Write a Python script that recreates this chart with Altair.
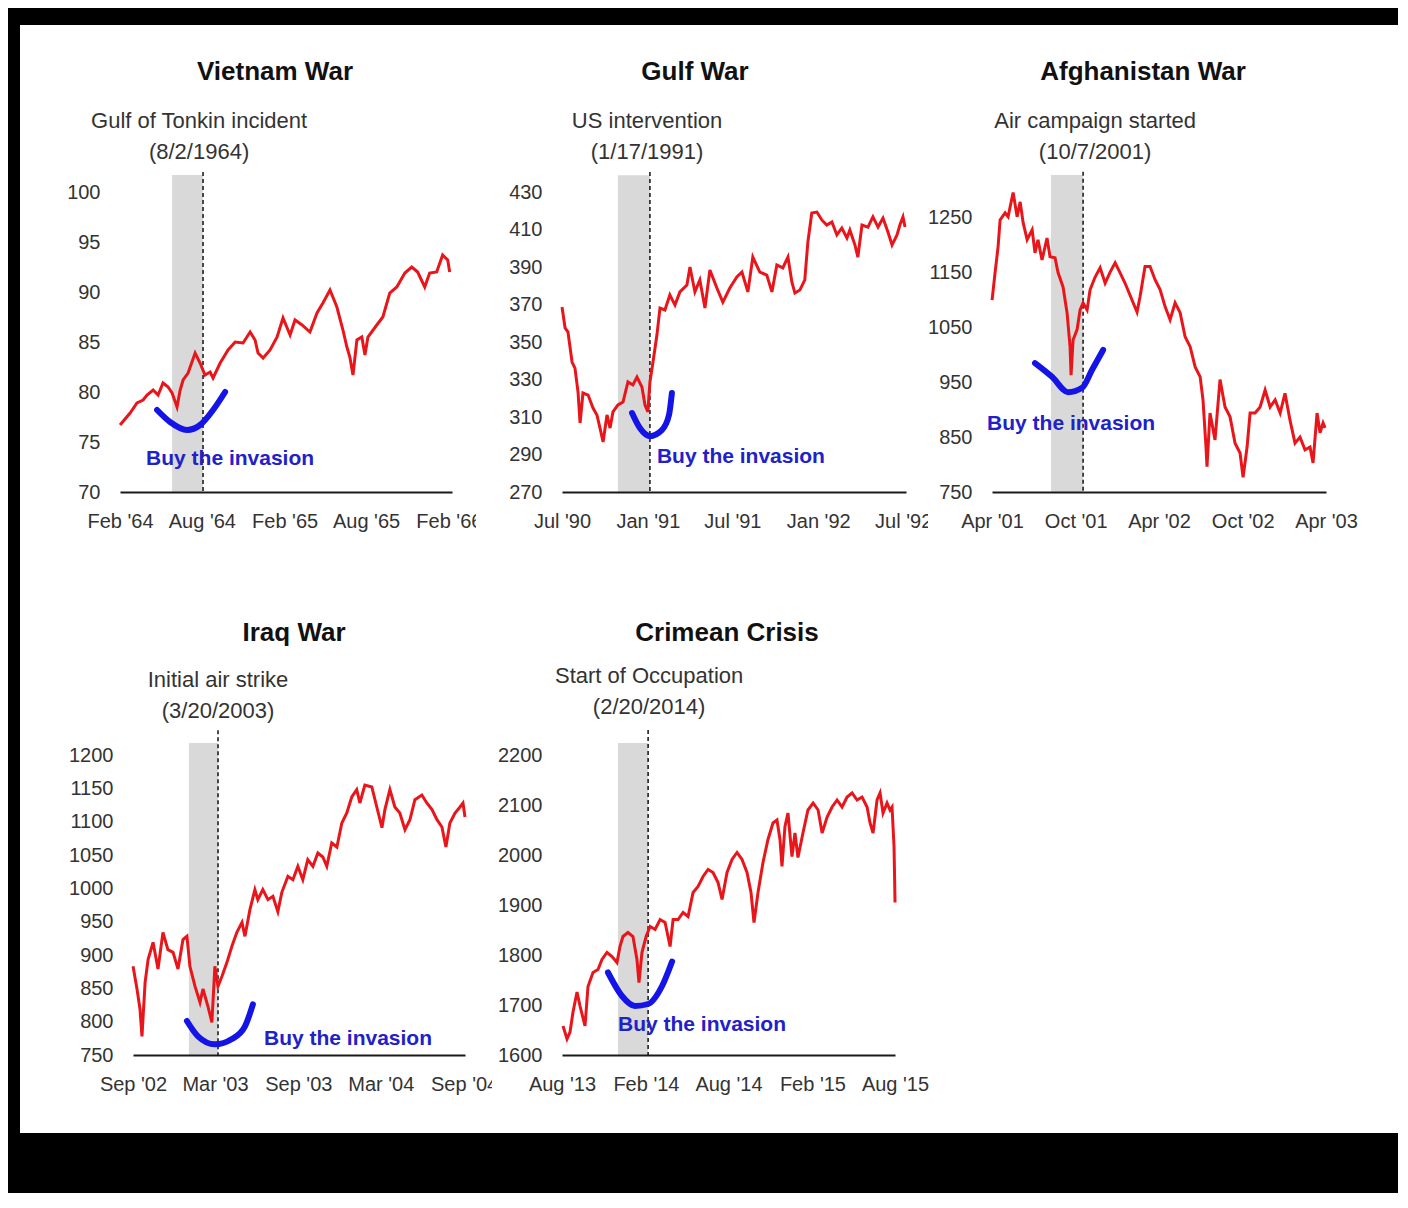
import altair as alt
import pandas as pd

# ---------------- data ----------------
PANEL_TITLES = ["Vietnam War", "Gulf War", "Afghanistan War", "Iraq War", "Crimean Crisis"]
EVENT_LABELS = [
    "Gulf of Tonkin incident\n(8/2/1964)",
    "US intervention\n(1/17/1991)",
    "Air campaign started\n(10/7/2001)",
    "Initial air strike\n(3/20/2003)",
    "Start of Occupation\n(2/20/2014)",
]
BUY_TEXT = "Buy the invasion"

# decimal-year dates and index levels
VIET_T = [1964.085, 1964.146, 1964.188, 1964.225, 1964.249, 1964.286, 1964.316, 1964.346, 1964.377, 1964.401,
          1964.431, 1964.450, 1964.468, 1964.498, 1964.541, 1964.571, 1964.601, 1964.632, 1964.650, 1964.693,
          1964.741, 1964.784, 1964.832, 1964.875, 1964.905, 1964.923, 1964.954, 1964.996, 1965.039, 1965.075,
          1965.118, 1965.148, 1965.191, 1965.239, 1965.282, 1965.318, 1965.361, 1965.403, 1965.440, 1965.464,
          1965.482, 1965.501, 1965.525, 1965.555, 1965.574, 1965.592, 1965.646, 1965.683, 1965.725, 1965.768,
          1965.817, 1965.859, 1965.895, 1965.938, 1965.968, 1966.011, 1966.047, 1966.078, 1966.090]
VIET_V = [76.7, 77.9, 78.9, 79.2, 79.7, 80.2, 79.7, 80.9, 80.5, 79.9,
          78.5, 80.2, 81.2, 81.9, 83.9, 82.9, 81.7, 82.0, 81.4, 82.9,
          84.2, 85.0, 84.9, 86.0, 85.2, 83.9, 83.4, 84.2, 85.5, 87.4,
          85.7, 87.2, 86.7, 86.0, 87.9, 88.9, 90.2, 88.5, 86.2, 84.5,
          83.5, 81.7, 85.2, 85.5, 83.7, 85.5, 86.7, 87.5, 89.9, 90.5,
          91.9, 92.5, 92.0, 90.5, 91.9, 92.0, 93.7, 93.2, 92.0]

GULF_T = [1990.496, 1990.514, 1990.531, 1990.555, 1990.572, 1990.590, 1990.602, 1990.619, 1990.649, 1990.678,
          1990.701, 1990.719, 1990.737, 1990.760, 1990.778, 1990.795, 1990.824, 1990.854, 1990.883, 1990.912,
          1990.936, 1990.965, 1990.983, 1991.000, 1991.012, 1991.030, 1991.053, 1991.071, 1991.100, 1991.129,
          1991.159, 1991.188, 1991.229, 1991.247, 1991.276, 1991.305, 1991.335, 1991.364, 1991.405, 1991.440,
          1991.481, 1991.522, 1991.552, 1991.587, 1991.616, 1991.657, 1991.698, 1991.728, 1991.757, 1991.792,
          1991.822, 1991.845, 1991.863, 1991.892, 1991.921, 1991.939, 1991.962, 1991.992, 1992.021, 1992.050,
          1992.080, 1992.109, 1992.138, 1992.168, 1992.185, 1992.215, 1992.232, 1992.256, 1992.291, 1992.320,
          1992.350, 1992.379, 1992.408, 1992.432, 1992.461, 1992.478, 1992.496, 1992.508]
GULF_V = [368.7, 357.5, 355.3, 339.3, 336.1, 323.3, 306.8, 322.8, 321.7, 314.8,
          311.1, 304.1, 296.7, 311.1, 304.1, 312.7, 316.4, 318.0, 328.7, 327.1,
          331.3, 326.0, 316.4, 312.7, 328.7, 339.3, 353.7, 368.1, 367.1, 375.1,
          369.7, 376.7, 380.4, 390.0, 376.7, 383.1, 368.1, 388.4, 378.8, 371.3,
          378.8, 384.7, 387.3, 376.7, 395.3, 387.3, 385.7, 376.7, 391.1, 389.5,
          395.3, 382.0, 376.1, 377.7, 383.1, 403.3, 418.8, 419.3, 415.1, 412.4,
          414.0, 407.1, 410.8, 405.5, 409.7, 401.7, 395.3, 412.4, 411.3, 416.7,
          411.3, 416.1, 408.7, 401.7, 407.1, 412.4, 416.7, 411.3]

AFGH_T = [2001.247, 2001.265, 2001.283, 2001.295, 2001.325, 2001.343, 2001.373, 2001.397, 2001.415, 2001.433,
          2001.457, 2001.487, 2001.504, 2001.522, 2001.546, 2001.576, 2001.594, 2001.624, 2001.642, 2001.672,
          2001.696, 2001.714, 2001.720, 2001.732, 2001.756, 2001.774, 2001.792, 2001.816, 2001.834, 2001.864,
          2001.894, 2001.924, 2001.954, 2001.984, 2002.013, 2002.043, 2002.085, 2002.115, 2002.133, 2002.163,
          2002.193, 2002.223, 2002.253, 2002.283, 2002.313, 2002.343, 2002.373, 2002.403, 2002.433, 2002.463,
          2002.493, 2002.510, 2002.528, 2002.534, 2002.552, 2002.582, 2002.612, 2002.642, 2002.672, 2002.702,
          2002.732, 2002.750, 2002.774, 2002.792, 2002.822, 2002.852, 2002.882, 2002.912, 2002.942, 2002.972,
          2003.001, 2003.031, 2003.061, 2003.091, 2003.121, 2003.151, 2003.169, 2003.193, 2003.211, 2003.229,
          2003.241]
AFGH_V = [1100, 1150, 1197, 1246, 1259, 1252, 1296, 1252, 1279, 1241,
          1210, 1228, 1186, 1210, 1173, 1213, 1179, 1177, 1150, 1124,
          1077, 1015, 963, 1027, 1046, 1082, 1095, 1082, 1119, 1142,
          1159, 1131, 1151, 1168, 1150, 1131, 1100, 1078, 1106, 1161,
          1161, 1137, 1119, 1088, 1064, 1095, 1077, 1033, 1015, 978,
          960, 918, 832, 796, 894, 845, 955, 905, 887, 839,
          821, 777, 832, 894, 894, 905, 936, 905, 918, 894,
          930, 881, 839, 850, 827, 832, 803, 894, 858, 876,
          867]

IRAQ_T = [2002.666, 2002.690, 2002.708, 2002.720, 2002.739, 2002.757, 2002.787, 2002.817, 2002.847, 2002.877,
          2002.908, 2002.938, 2002.968, 2002.992, 2003.010, 2003.041, 2003.071, 2003.089, 2003.119, 2003.143,
          2003.161, 2003.180, 2003.204, 2003.234, 2003.264, 2003.294, 2003.325, 2003.343, 2003.373, 2003.403,
          2003.421, 2003.451, 2003.482, 2003.512, 2003.542, 2003.566, 2003.603, 2003.633, 2003.663, 2003.693,
          2003.723, 2003.754, 2003.784, 2003.814, 2003.838, 2003.868, 2003.899, 2003.929, 2003.959, 2003.989,
          2004.019, 2004.038, 2004.068, 2004.110, 2004.140, 2004.171, 2004.189, 2004.219, 2004.249, 2004.279,
          2004.310, 2004.340, 2004.370, 2004.412, 2004.442, 2004.473, 2004.503, 2004.533, 2004.557, 2004.581,
          2004.612, 2004.642, 2004.660, 2004.672]
IRAQ_V = [883, 849, 819, 778, 859, 893, 919, 879, 934, 908,
          904, 879, 923, 928, 883, 853, 829, 849, 823, 799,
          883, 853, 868, 889, 913, 934, 949, 928, 968, 998,
          983, 998, 983, 988, 965, 994, 1018, 1013, 1033, 1013,
          1043, 1033, 1053, 1047, 1033, 1068, 1062, 1098, 1113, 1137,
          1148, 1128, 1155, 1152, 1122, 1091, 1118, 1148, 1122, 1113,
          1088, 1103, 1133, 1140, 1128, 1118, 1103, 1092, 1062, 1098,
          1113, 1122, 1128, 1107]

CRIM_T = [2013.587, 2013.611, 2013.629, 2013.647, 2013.671, 2013.689, 2013.719, 2013.737, 2013.767, 2013.797,
          2013.821, 2013.851, 2013.881, 2013.911, 2013.929, 2013.947, 2013.977, 2014.007, 2014.031, 2014.043,
          2014.061, 2014.086, 2014.110, 2014.140, 2014.170, 2014.200, 2014.230, 2014.248, 2014.278, 2014.308,
          2014.338, 2014.368, 2014.398, 2014.428, 2014.458, 2014.488, 2014.518, 2014.542, 2014.572, 2014.602,
          2014.632, 2014.662, 2014.692, 2014.716, 2014.734, 2014.758, 2014.788, 2014.818, 2014.848, 2014.872,
          2014.890, 2014.902, 2014.920, 2014.938, 2014.962, 2014.980, 2014.998, 2015.028, 2015.058, 2015.089,
          2015.119, 2015.143, 2015.173, 2015.203, 2015.233, 2015.263, 2015.293, 2015.323, 2015.353, 2015.383,
          2015.413, 2015.431, 2015.449, 2015.473, 2015.491, 2015.509, 2015.533, 2015.551, 2015.563, 2015.575,
          2015.581]
CRIM_V = [1658, 1632, 1646, 1686, 1726, 1698, 1658, 1737, 1765, 1771,
          1791, 1805, 1797, 1785, 1817, 1837, 1845, 1837, 1791, 1745,
          1805, 1837, 1857, 1851, 1871, 1865, 1817, 1871, 1871, 1885,
          1877, 1925, 1937, 1957, 1971, 1965, 1945, 1911, 1965, 1991,
          2005, 1991, 1965, 1925, 1865, 1925, 1985, 2031, 2064, 2070,
          2031, 1977, 2057, 2084, 1997, 2044, 1995, 2044, 2090, 2104,
          2090, 2044, 2076, 2096, 2110, 2096, 2116, 2124, 2110, 2116,
          2096, 2064, 2044, 2110, 2124, 2084, 2104, 2090, 2096, 2017,
          1905]

# event marker (dashed line) and shaded window, as drawn
EVENT_T = [1964.589, 1991.012, 2001.792, 2003.180, 2014.098]
BAND_START_T = [1964.401, 1990.824, 2001.600, 2003.004, 2013.917]
BAND_TOP = [101.7, 439.0, 1328, 1218, 2224]
RULE_TOP = [102.0, 440.7, 1334, 1237, 2250]

# hand-drawn blue smiles
CURVE_T = [
    [1964.310, 1964.389, 1964.492, 1964.571, 1964.650, 1964.723],
    [1990.907, 1990.953, 1991.012, 1991.082, 1991.124, 1991.141],
    [2001.504, 2001.606, 2001.702, 2001.786, 2001.846, 2001.912],
    [2002.992, 2003.059, 2003.161, 2003.264, 2003.343, 2003.391],
    [2013.857, 2013.941, 2014.019, 2014.098, 2014.182, 2014.242],
]
CURVE_V = [
    [78.2, 77.0, 76.2, 76.7, 78.2, 80.0],
    [312.1, 304.1, 299.8, 303.0, 311.1, 322.8],
    [985, 960, 932, 940, 973, 1009],
    [801, 778, 766, 774, 793, 826],
    [1765, 1718, 1698, 1702, 1738, 1787],
]
BUY_T = [1964.243, 1991.053, 2001.217, 2003.458, 2013.917]
BUY_V = [73.3, 288.7, 874, 774, 1660]
ANN_T = [1964.565, 1990.995, 2001.864, 2003.180, 2014.104]

# axes
X_DOMAINS = [((1964, 2, 1), (1966, 2, 8)), ((1990, 7, 1), (1992, 7, 7)), ((2001, 4, 1), (2003, 4, 1)),
             ((2002, 9, 1), (2004, 9, 3)), ((2013, 8, 1), (2015, 8, 1))]
X_TICKS = [
    [(1964, 2), (1964, 8), (1965, 2), (1965, 8), (1966, 2)],
    [(1990, 7), (1991, 1), (1991, 7), (1992, 1), (1992, 7)],
    [(2001, 4), (2001, 10), (2002, 4), (2002, 10), (2003, 4)],
    [(2002, 9), (2003, 3), (2003, 9), (2004, 3), (2004, 9)],
    [(2013, 8), (2014, 2), (2014, 8), (2015, 2), (2015, 8)],
]
Y_DOMAINS = [(70, 100), (270, 430), (750, 1297), (750, 1200), (1600, 2200)]
Y_TICKS = [
    [70, 75, 80, 85, 90, 95, 100],
    [270, 290, 310, 330, 350, 370, 390, 410, 430],
    [750, 850, 950, 1050, 1150, 1250],
    [750, 800, 850, 900, 950, 1000, 1050, 1100, 1150, 1200],
    [1600, 1700, 1800, 1900, 2000, 2100, 2200],
]

# ---------------- layout / style (pixels) ----------------
PW, PH = 430, 300
X_RANGES = [(20, 352), (32, 376), (32, 366), (33, 365), (32, 365)]
BG_BOX = [(-80, 378, -167, 385), (-54, 400, -167, 385), (-32, 438, -167, 385),
          (-80, 394, -180, 378), (-38, 868, -180, 378)]
TITLE_POS = [(175, -120), (165, -120), (183, -120), (194, -122), (197, -122)]
ANN_Y = [-71, -71, -71, -75, -79]

FONT = "Liberation Sans"
RED = "#e8161b"
BLUE_LINE = "#1414e6"
BLUE_TEXT = "#2121c9"
GRAY = "#d9d9d9"
TXT = "#333333"


def to_ts(y):
    yr = int(y)
    nd = 366 if (yr % 4 == 0 and (yr % 100 != 0 or yr % 400 == 0)) else 365
    ts = pd.Timestamp(year=yr, month=1, day=1) + pd.Timedelta(days=(y - yr) * nd)
    return ts.strftime("%Y-%m-%dT%H:%M:%S")


SERIES = [(VIET_T, VIET_V), (GULF_T, GULF_V), (AFGH_T, AFGH_V), (IRAQ_T, IRAQ_V), (CRIM_T, CRIM_V)]


def make_panel(i):
    ts, vs = SERIES[i]
    (d0, d1) = X_DOMAINS[i]
    xs = alt.Scale(domain=[alt.DateTime(year=d0[0], month=d0[1], date=d0[2]),
                           alt.DateTime(year=d1[0], month=d1[1], date=d1[2])],
                   range=list(X_RANGES[i]), nice=False)
    ys = alt.Scale(domain=list(Y_DOMAINS[i]), nice=False, zero=False)

    xaxis = alt.Axis(values=[alt.DateTime(year=a, month=b, date=1) for a, b in X_TICKS[i]],
                     tickCount=20, format="%b '%y", labelFlush=False, labelOverlap=False,
                     ticks=False, tickSize=0, grid=False, domain=True, domainColor="#1a1a1a",
                     domainWidth=2, labelPadding=19, labelFontSize=20, labelFont=FONT,
                     labelColor=TXT, zindex=1)
    yaxis = alt.Axis(values=Y_TICKS[i], tickCount=20, format="d", labelFlush=False, labelOverlap=False,
                     ticks=False, tickSize=0, grid=False, domain=False, labelPadding=20,
                     offset=-X_RANGES[i][0], labelFontSize=20, labelFont=FONT, labelColor=TXT, zindex=1)

    def X(f):
        return alt.X(f, scale=xs, axis=xaxis, title=None)

    def Y(f):
        return alt.Y(f, scale=ys, axis=yaxis, title=None)

    one = pd.DataFrame({"k": [0]})
    bx0, bx1, by0, by1 = BG_BOX[i]
    bg = alt.Chart(one).mark_rect(color="white").encode(
        x=alt.value(bx0), x2=alt.value(bx1), y=alt.value(by0), y2=alt.value(by1))

    band_df = pd.DataFrame({"x": [to_ts(BAND_START_T[i])], "x2": [to_ts(EVENT_T[i])],
                            "y": [BAND_TOP[i]], "y2": [Y_DOMAINS[i][0]]})
    band = alt.Chart(band_df).mark_rect(color=GRAY).encode(
        x=X("x:T"), x2="x2:T", y=Y("y:Q"), y2="y2:Q")

    rule_df = pd.DataFrame({"x": [to_ts(EVENT_T[i])], "y": [RULE_TOP[i]], "y2": [Y_DOMAINS[i][0]]})
    rule = alt.Chart(rule_df).mark_rule(color="#111111", strokeDash=[4, 3], strokeWidth=1.5).encode(
        x=X("x:T"), y=Y("y:Q"), y2="y2:Q")

    line_df = pd.DataFrame({"x": [to_ts(t) for t in ts], "y": vs})
    line = alt.Chart(line_df).mark_line(color=RED, strokeWidth=3).encode(x=X("x:T"), y=Y("y:Q"))

    curve_df = pd.DataFrame({"x": [to_ts(t) for t in CURVE_T[i]], "y": CURVE_V[i]})
    curve = alt.Chart(curve_df).mark_line(color=BLUE_LINE, strokeWidth=6, strokeCap="round",
                                          interpolate="monotone").encode(x=X("x:T"), y=Y("y:Q"))

    buy_df = pd.DataFrame({"x": [to_ts(BUY_T[i])], "y": [BUY_V[i]]})
    buy = alt.Chart(buy_df).mark_text(text=BUY_TEXT, align="left", baseline="middle", font=FONT,
                                      fontWeight="bold", fontSize=21, color=BLUE_TEXT).encode(
        x=X("x:T"), y=Y("y:Q"))

    ann_df = pd.DataFrame({"x": [to_ts(ANN_T[i])], "label": [EVENT_LABELS[i]]})
    ann = alt.Chart(ann_df).mark_text(align="center", baseline="middle", lineBreak="\n", lineHeight=31,
                                      font=FONT, fontSize=22, color=TXT).encode(
        x=X("x:T"), y=alt.value(ANN_Y[i]), text="label:N")

    tx, ty = TITLE_POS[i]
    title = alt.Chart(one).mark_text(text=PANEL_TITLES[i], align="center", baseline="middle", font=FONT,
                                     fontWeight="bold", fontSize=26, color="#111111").encode(
        x=alt.value(tx), y=alt.value(ty))

    return alt.layer(bg, band, rule, line, curve, buy, ann, title).properties(width=PW, height=PH)


panels = [make_panel(i) for i in range(5)]

chart = alt.concat(
    *panels, columns=3, spacing={"row": 263, "column": 0}, bounds="flush"
).properties(
    background="black",
    padding={"left": 12, "top": 17, "right": 0, "bottom": 60},
).configure_view(strokeWidth=0)

chart.save("out.html", embed_options={"renderer": "svg", "actions": False})
